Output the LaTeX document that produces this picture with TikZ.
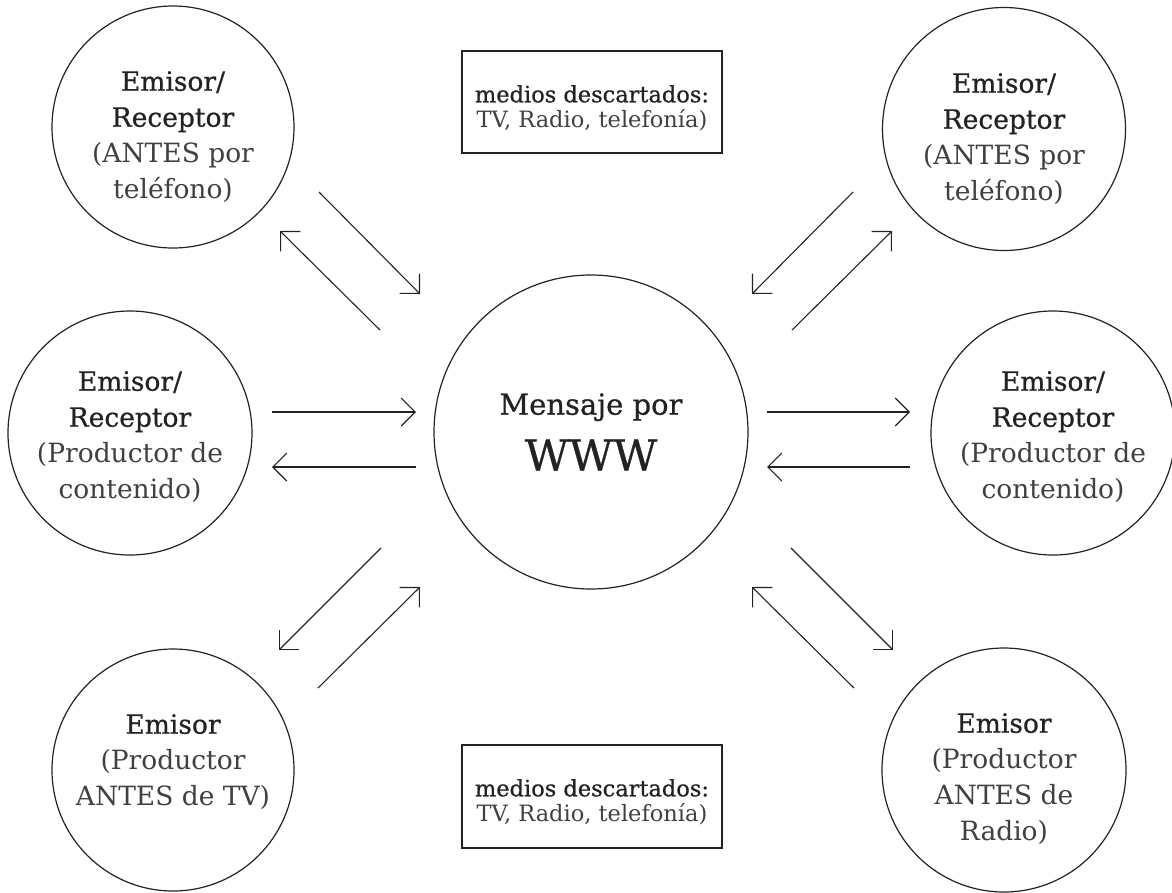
\documentclass[tikz,border=0pt]{standalone}
\usepackage{fontspec}
\setmainfont{DejaVu Serif}
\newfontfamily\dk{DejaVu Serif}[FakeBold=0.7]
\usetikzlibrary{arrows.meta}
\definecolor{ink}{HTML}{222222}
\definecolor{lite}{HTML}{404040}
\begin{document}
\begin{tikzpicture}[x=1pt,y=-1pt,
  ring/.style={draw=ink,line width=1.2pt,circle,inner sep=0pt},
  ctext/.style={align=center,text=ink,font={\fontsize{26.5}{36}\selectfont}},
  btext/.style={align=center,text=ink,font={\fontsize{22.5}{25}\selectfont}},
  boxs/.style={draw=ink,line width=1.2pt,rectangle,inner sep=0pt},
  arr/.style={draw=ink,line width=1.1pt,-{Straight Barb[length=14pt,width=28pt,line width=1.1pt]}}]
\useasboundingbox (0,0) rectangle (1172,892);
% circles
\node[ring,minimum size=314pt] (C) at (591,432) {};
\node[ring,minimum size=242pt] (TL) at (173,127) {};
\node[ring,minimum size=244pt] (ML) at (130,433) {};
\node[ring,minimum size=242pt] (BL) at (173,770) {};
\node[ring,minimum size=243pt] (TR) at (1004,129) {};
\node[ring,minimum size=244pt] (MR) at (1053,433) {};
\node[ring,minimum size=244pt] (BR) at (1004,770) {};
% texts
\node[ctext] (tTL) at (173,137) {{\dk Emisor/}\\{\dk Receptor}\\{\color{lite}(ANTES por}\\{\color{lite}teléfono)}};
\node[ctext] (tTR) at (1004,139) {{\dk Emisor/}\\{\dk Receptor}\\{\color{lite}(ANTES por}\\{\color{lite}teléfono)}};
\node[ctext] (tML) at (130,437) {{\dk Emisor/}\\{\dk Receptor}\\{\color{lite}(Productor de}\\{\color{lite}contenido)}};
\node[ctext] (tMR) at (1053,437) {{\dk Emisor/}\\{\dk Receptor}\\{\color{lite}(Productor de}\\{\color{lite}contenido)}};
\node[ctext] (tBL) at (173,762) {{\dk Emisor}\\{\color{lite}(Productor}\\{\color{lite}ANTES de TV)}};
\node[ctext] (tBR) at (1004,779) {{\dk Emisor}\\{\color{lite}(Productor}\\{\color{lite}ANTES de}\\{\color{lite}Radio)}};
\node[align=center,text=ink,font={\fontsize{29}{56}\selectfont}] (tC) at (591,432) {{\dk Mensaje por}\\{\fontsize{43}{56}\selectfont\dk WWW}};
% boxes
\node[boxs,minimum width=260pt,minimum height=102pt] (B1) at (592,102) {};
\node[btext] (tB1) at (592,108) {{\dk medios descartados:}\\{\color{lite}TV, Radio, telefonía)}};
\node[boxs,minimum width=260pt,minimum height=103pt] (B2) at (592,796.5) {};
\node[btext] (tB2) at (592,802) {{\dk medios descartados:}\\{\color{lite}TV, Radio, telefonía)}};
% arrow end points
\coordinate (a1s) at (319,192); \coordinate (a1e) at (420,294);
\coordinate (a2s) at (380,330); \coordinate (a2e) at (280,231);
\coordinate (a3s) at (272,412); \coordinate (a3e) at (416,412);
\coordinate (a4s) at (416,467); \coordinate (a4e) at (272,467);
\coordinate (a5s) at (381,548); \coordinate (a5e) at (279,650);
\coordinate (a6s) at (318,688); \coordinate (a6e) at (420,587);
\coordinate (b1s) at (853,192); \coordinate (b1e) at (752,294);
\coordinate (b2s) at (792,330); \coordinate (b2e) at (892,231);
\coordinate (b3s) at (767,412); \coordinate (b3e) at (910,412);
\coordinate (b4s) at (910,467); \coordinate (b4e) at (767,467);
\coordinate (b5s) at (791,548); \coordinate (b5e) at (893,650);
\coordinate (b6s) at (854,688); \coordinate (b6e) at (752,587);
\foreach \p in {a1,a2,a3,a4,a5,a6,b1,b2,b3,b4,b5,b6}{\draw[arr] (\p s) -- (\p e);}
\end{tikzpicture}
\end{document}
